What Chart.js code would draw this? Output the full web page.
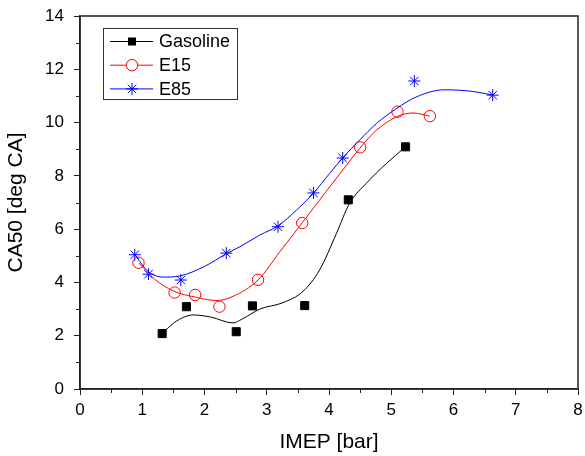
<!DOCTYPE html>
<html>
<head>
<meta charset="utf-8">
<script src="https://cdn.jsdelivr.net/npm/chart.js@4.4.1/dist/chart.umd.min.js"></script>
<style>
    html, body { margin: 0; padding: 0; background: #fff; }
    #wrap { width: 585px; height: 456px; position: relative; }
</style>
</head>
<body>
<div id="wrap"><canvas id="chart"></canvas></div>
<script>
// measured points
const gasolineX = [1.32, 1.71, 2.51, 2.77, 3.61, 4.31, 5.23];
const gasolineY = [2.08, 3.09, 2.15, 3.12, 3.13, 7.10, 9.09];
const e15X = [0.94, 1.52, 1.85, 2.24, 2.86, 3.57, 4.50, 5.10, 5.62];
const e15Y = [4.74, 3.62, 3.53, 3.09, 4.10, 6.23, 9.07, 10.41, 10.24];
const e85X = [0.88, 1.10, 1.62, 2.35, 3.18, 3.75, 4.22, 5.37, 6.63];
const e85Y = [5.04, 4.31, 4.09, 5.10, 6.09, 7.36, 8.67, 11.56, 11.03];

// fitted curves
const gasolineFitX = [1.37, 1.55, 1.82, 2.10, 2.46, 2.60, 2.89, 3.26, 3.58, 3.85, 4.12, 4.33, 4.60, 4.92, 5.22];
const gasolineFitY = [2.20, 2.55, 2.78, 2.70, 2.48, 2.62, 3.00, 3.24, 3.66, 4.47, 5.84, 6.97, 7.72, 8.46, 9.07];
const e15FitX = [0.95, 1.20, 1.50, 1.85, 2.20, 2.46, 2.86, 3.21, 3.57, 3.96, 4.28, 4.49, 4.76, 5.08, 5.35, 5.62];
const e15FitY = [4.72, 4.12, 3.68, 3.45, 3.32, 3.48, 4.09, 5.15, 6.24, 7.43, 8.40, 9.02, 9.71, 10.21, 10.36, 10.24];
const e85FitX = [0.88, 1.10, 1.35, 1.60, 2.00, 2.35, 2.57, 2.89, 3.18, 3.48, 3.75, 4.01, 4.23, 4.49, 4.76, 5.08, 5.40, 5.85, 6.31, 6.63];
const e85FitY = [5.04, 4.40, 4.20, 4.24, 4.60, 5.08, 5.34, 5.78, 6.12, 6.72, 7.35, 8.09, 8.70, 9.34, 9.96, 10.52, 10.96, 11.23, 11.17, 11.03];

const seriesNames = ["Gasoline", "E15", "E85"];
const xTitle = "IMEP [bar]";
const yTitle = "CA50 [deg CA]";

const FONT = "'Liberation Sans', Arial, sans-serif";
const BLACK = "#000000";
const RED = "#ff0000";
const BLUE = "#0000ff";

const toPoints = (xs, ys) => xs.map((x, i) => ({ x, y: ys[i] }));

const curve = (xs, ys, color) => ({
    data: toPoints(xs, ys),
    showLine: true,
    borderColor: color,
    borderWidth: 1,
    pointRadius: 0,
    cubicInterpolationMode: "monotone",
    fill: false
});

const styles = [
    { color: BLACK, style: "rect", radius: 5.7, filled: true },
    { color: RED, style: "circle", radius: 5.7, filled: false },
    { color: BLUE, style: "star", radius: 6, filled: false }
];

const markers = (xs, ys, s) => ({
    data: toPoints(xs, ys),
    showLine: false,
    pointStyle: s.style,
    pointRadius: s.radius,
    pointBorderColor: s.color,
    pointBackgroundColor: s.filled ? s.color : "rgba(255,255,255,0)",
    pointBorderWidth: 1
});

// box, minor ticks and legend
const framePlugin = {
    id: "frame",
    afterDraw(chart) {
        const { ctx, chartArea, scales } = chart;
        ctx.save();
        ctx.strokeStyle = "#222";
        ctx.lineWidth = 1.5;
        ctx.strokeRect(chartArea.left, chartArea.top, chartArea.right - chartArea.left, chartArea.bottom - chartArea.top);

        ctx.lineWidth = 1;
        ctx.beginPath();
        for (let v = 0.5; v < 8; v += 1) {
            const px = Math.round(scales.x.getPixelForValue(v)) + 0.5;
            ctx.moveTo(px, chartArea.bottom);
            ctx.lineTo(px, chartArea.bottom + 4);
        }
        for (let v = 1; v < 14; v += 2) {
            const py = Math.round(scales.y.getPixelForValue(v)) + 0.5;
            ctx.moveTo(chartArea.left, py);
            ctx.lineTo(chartArea.left - 4, py);
        }
        ctx.stroke();

        // legend
        const lx = 103.5, ly = 28.5, lw = 134, lh = 71;
        ctx.fillStyle = "#fff";
        ctx.fillRect(lx, ly, lw, lh);
        ctx.strokeStyle = "#333";
        ctx.lineWidth = 1;
        ctx.strokeRect(lx, ly, lw, lh);
        ctx.font = "18px " + FONT;
        ctx.textBaseline = "middle";
        seriesNames.forEach((name, i) => {
            const y = 41.5 + i * 23.7;
            const s = styles[i];
            ctx.strokeStyle = s.color;
            ctx.lineWidth = 1;
            ctx.beginPath();
            ctx.moveTo(110, y);
            ctx.lineTo(153, y);
            ctx.stroke();
            ctx.fillStyle = s.filled ? s.color : "#fff";
            if (s.style === "circle") {
                ctx.beginPath();
                ctx.arc(132, y, s.radius, 0, Math.PI * 2);
                ctx.fill();
                ctx.stroke();
            } else if (s.style === "rect") {
                ctx.fillRect(132 - 4, y - 4, 8, 8);
            } else {
                Chart.helpers.drawPoint(ctx, { pointStyle: "star", radius: s.radius, borderWidth: 1 }, 132, y);
            }
            ctx.fillStyle = "#000";
            ctx.fillText(name, 159, y + 1);
        });
        ctx.restore();
    }
};

new Chart(document.getElementById("chart"), {
    type: "scatter",
    data: {
        datasets: [
            curve(gasolineFitX, gasolineFitY, BLACK),
            curve(e15FitX, e15FitY, RED),
            curve(e85FitX, e85FitY, BLUE),
            markers(gasolineX, gasolineY, styles[0]),
            markers(e15X, e15Y, styles[1]),
            markers(e85X, e85Y, styles[2])
        ]
    },
    options: {
        responsive: true,
        maintainAspectRatio: false,
        animation: false,
        events: [],
        layout: { padding: { top: 16, right: 5, left: 0, bottom: 0 } },
        plugins: {
            legend: { display: false },
            tooltip: { enabled: false }
        },
        scales: {
            x: {
                type: "linear",
                min: 0,
                max: 8,
                afterFit: (scale) => {
                    scale.height = 67;
                    scale.paddingLeft = 0;
                    scale.paddingRight = 0;
                },
                ticks: {
                    stepSize: 1,
                    color: "#000",
                    padding: 5,
                    font: { family: FONT, size: 17 }
                },
                grid: { drawOnChartArea: false, tickLength: 6, color: "#222", tickWidth: 1 },
                border: { color: "#222", width: 1.5 },
                title: {
                    display: true,
                    text: xTitle,
                    color: "#000",
                    padding: { top: 0, bottom: 1 },
                    font: { family: FONT, size: 21 }
                }
            },
            y: {
                type: "linear",
                min: 0,
                max: 14,
                afterFit: (scale) => {
                    scale.width = 80;
                    scale.paddingTop = 0;
                    scale.paddingBottom = 0;
                },
                ticks: {
                    stepSize: 2,
                    color: "#000",
                    padding: 10,
                    font: { family: FONT, size: 17 }
                },
                grid: { drawOnChartArea: false, tickLength: 6, color: "#222", tickWidth: 1 },
                border: { color: "#222", width: 1.5 },
                title: {
                    display: true,
                    text: yTitle,
                    color: "#000",
                    padding: { top: 4, bottom: 0 },
                    font: { family: FONT, size: 21 }
                }
            }
        }
    },
    plugins: [framePlugin]
});
</script>
</body>
</html>
